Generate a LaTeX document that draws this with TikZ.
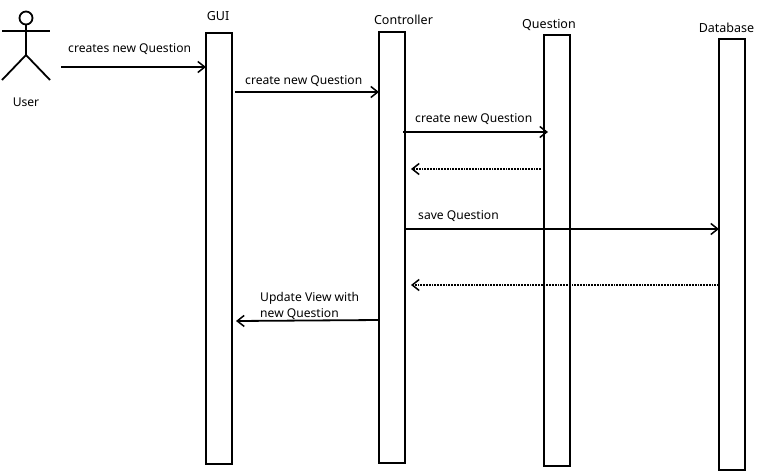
\documentclass[tikz,border=0pt]{standalone}
\usepackage{fontspec}
\setmainfont{Noto Sans}
\usetikzlibrary{arrows.meta}
\tikzset{
  x=1pt,y=-1pt,
  lifeline/.style={draw,line width=1.8pt,minimum width=26pt,minimum height=431pt,inner sep=0pt,outer sep=0pt,anchor=north west},
  msg/.style={line width=1.8pt,-{Straight Barb[length=7pt,width=11pt,line width=1.5pt]}},
  reply/.style={msg,densely dotted},
  lbl/.style={font=\fontsize{12.1}{16}\selectfont,inner sep=0pt,anchor=base west,align=left},
  ttl/.style={font=\fontsize{12.5}{14}\selectfont,inner sep=0pt,anchor=base},
  stick/.style={line width=1.8pt}
}
\begin{document}
\begin{tikzpicture}
\useasboundingbox (0,0) rectangle (757,472);
% actor
\node[draw,circle,line width=1.8pt,minimum size=13pt,inner sep=0pt,outer sep=0pt] (head) at (26,18) {};
\coordinate (hip) at (26,55);
\coordinate (handl) at (2,31);
\coordinate (handr) at (50,31);
\coordinate (footl) at (2,80);
\coordinate (footr) at (50,80);
\draw[stick] (head.south) -- (hip);
\draw[stick] (handl) -- (handr);
\draw[stick] (footl) -- (hip) -- (footr);
\node[lbl,anchor=base] (user) at (26,106) {User};
% lifelines
\node[lifeline] (gui) at (206,33) {};
\node[lifeline] (ctrl) at (379,32) {};
\node[lifeline] (ques) at (544,35) {};
\node[lifeline] (db) at (719,39) {};
\node[ttl] (tgui) at (218,20) {GUI};
\node[ttl] (tctrl) at (403.5,24) {Controller};
\node[ttl] (tques) at (549,28) {Question};
\node[ttl] (tdb) at (726.5,32) {Database};
% anchors
\coordinate (a1) at (61,67);
\coordinate (a2) at (235,92);
\coordinate (a3) at (403,132);
\coordinate (a3e) at (548,132);
\coordinate (a4) at (541,169);
\coordinate (a4e) at (411,169);
\coordinate (a5) at (405,229);
\coordinate (a6) at (719,285);
\coordinate (a6e) at (411,285);
\coordinate (a7) at (379,320);
\coordinate (a7e) at (236,321);
\draw[msg] (a1) -- (gui.west |- a1);
\draw[msg] (a2) -- (ctrl.west |- a2);
\draw[msg] (a3) -- (a3e);
\draw[reply] (a4) -- (a4e);
\draw[msg] (a5) -- (db.west |- a5);
\draw[reply] (a6) -- (a6e);
\draw[msg] (a7) -- (a7e);
\node[lbl] (m1) at (68,52) {creates new Question};
\node[lbl] (m2) at (245,84) {create new Question};
\node[lbl] (m3) at (415,122) {create new Question};
\node[lbl] (m5) at (418,219) {save Question};
\node[lbl] (m7) at (260,317) {Update View with\\new Question};
\end{tikzpicture}
\end{document}
